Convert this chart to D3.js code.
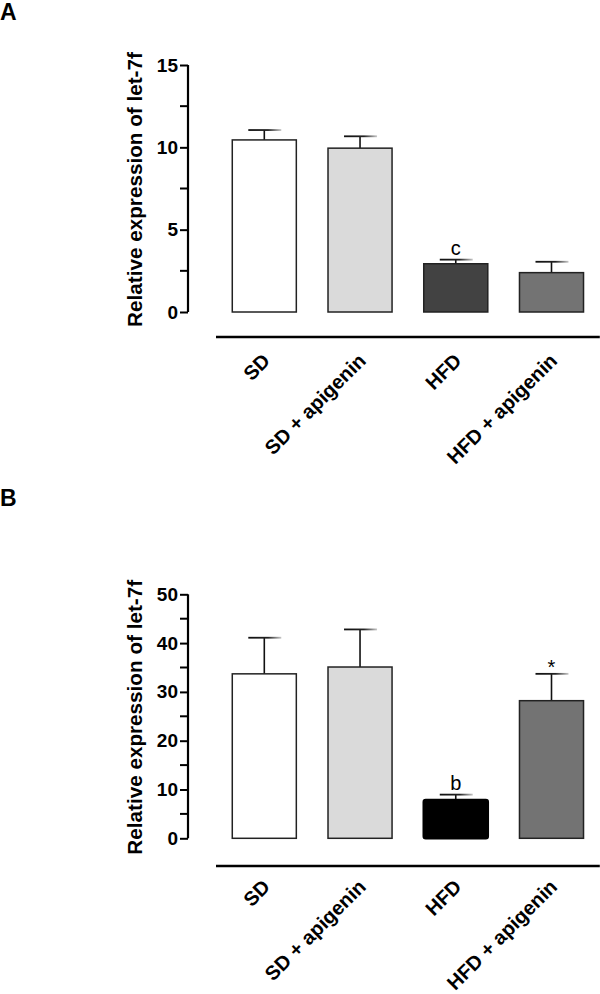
<!DOCTYPE html>
<html>
<head>
<meta charset="utf-8">
<script src="https://cdn.jsdelivr.net/npm/d3@7"></script>
<style>
  html, body { margin: 0; padding: 0; background: #fff; }
  svg { display: block; font-family: "Liberation Sans", Arial, sans-serif; }
</style>
</head>
<body>
<svg id="chart" width="600" height="994"></svg>
<script>
// ---- data ----
const categories = ["SD", "SD + apigenin", "HFD", "HFD + apigenin"];
const meanA = [10.45, 9.95, 2.93, 2.39];
const semA = [0.60, 0.72, 0.25, 0.66];
const annotA = ["", "", "c", ""];
const meanB = [33.7, 35.1, 7.85, 28.2];
const semB = [7.4, 7.7, 1.1, 5.5];
const annotB = ["", "", "b", "*"];
const ticksA = [0, 5, 10, 15];
const minorA = [2.5, 7.5, 12.5];
const ticksB = [0, 10, 20, 30, 40, 50];
const minorB = [5, 15, 25, 35, 45];
const yLabel = "Relative expression of let-7f";
const fillsA = ["#ffffff", "#dadada", "#424242", "#737373"];
const fillsB = ["#ffffff", "#dadada", "#000000", "#737373"];

const svg = d3.select("#chart");

const defs = svg.append("defs");
const grad = defs.append("linearGradient").attr("id", "capgrad")
  .attr("x1", "0%").attr("x2", "100%").attr("y1", "0%").attr("y2", "0%");
grad.append("stop").attr("offset", "0%").attr("stop-color", "#111");
grad.append("stop").attr("offset", "60%").attr("stop-color", "#222");
grad.append("stop").attr("offset", "100%").attr("stop-color", "#c8c8c8");

function panel(opts) {
  const g = svg.append("g");
  const x = d3.scaleBand().domain(categories).range([216, 599.8])
    .paddingInner(0.331).paddingOuter(0.17);
  const y = d3.scaleLinear().domain(opts.domain).range(opts.range);

  // panel letter
  svg.append("text").attr("x", 0).attr("y", opts.letterY)
    .attr("font-size", 23).attr("font-weight", "bold").text(opts.letter);

  // y axis
  const ax = g.append("g").attr("transform", "translate(188,0)")
    .call(d3.axisLeft(y).tickValues(opts.ticks).tickSize(8).tickPadding(2).tickFormat(d3.format("d")));
  ax.select(".domain").attr("stroke", "#000").attr("stroke-width", 2.2)
    .attr("d", `M0,${y(opts.domain[0])}V${y(opts.domain[1])}`);
  ax.selectAll(".tick line").attr("stroke", "#000").attr("stroke-width", 2);
  ax.selectAll(".tick text").attr("font-size", 19).attr("font-weight", "bold")
    .attr("fill", "#000").attr("font-family", "Liberation Sans, Arial, sans-serif");
  ax.append("g").selectAll("line").data(opts.minor).join("line")
    .attr("x1", -8).attr("x2", 0).attr("y1", d => y(d)).attr("y2", d => y(d))
    .attr("stroke", "#000").attr("stroke-width", 2);

  // y label
  const midY = (y(opts.domain[0]) + y(opts.domain[1])) / 2 + 1;
  g.append("text").attr("transform", `translate(142,${midY}) rotate(-90)`)
    .attr("text-anchor", "middle").attr("font-size", 20.7).attr("font-weight", "bold")
    .text(yLabel);

  // bars
  const data = categories.map((c, i) => ({ c, m: opts.mean[i], s: opts.sem[i], a: opts.annot[i], f: opts.fills[i] }));
  const cx = d => x(d.c) + x.bandwidth() / 2;

  // error bars (drawn before bars so the bar covers the lower part)
  g.selectAll(".err").data(data).join("line")
    .attr("x1", cx).attr("x2", cx)
    .attr("y1", d => y(d.m)).attr("y2", d => y(d.m + d.s))
    .attr("stroke", "#111").attr("stroke-width", 1.6);
  g.selectAll(".cap").data(data).join("rect")
    .attr("x", d => cx(d) - 16).attr("width", 33)
    .attr("y", d => y(d.m + d.s) - 0.9).attr("height", 1.8)
    .attr("fill", "url(#capgrad)");

  g.selectAll(".bar").data(data).join("rect")
    .attr("x", d => x(d.c)).attr("width", x.bandwidth())
    .attr("y", d => y(d.m)).attr("height", d => y(0) - y(d.m))
    .attr("fill", d => d.f)
    .attr("stroke", d => d.f === "#000000" ? "#000" : "#222")
    .attr("stroke-width", d => d.f === "#000000" ? 2.5 : 1.5)
    .attr("rx", d => d.f === "#000000" ? 2 : 0);

  // annotations
  g.selectAll(".ann").data(data.filter(d => d.a)).join("text")
    .attr("x", cx).attr("y", d => y(d.m + d.s) - (d.a === "*" ? 0 : 5))
    .attr("text-anchor", "middle").attr("font-size", 20).text(d => d.a);

  // baseline line
  const base = y(0) + opts.baseGap;
  g.append("line").attr("x1", x.range()[0]).attr("x2", x.range()[1])
    .attr("y1", base).attr("y2", base).attr("stroke", "#000").attr("stroke-width", 2.5);

  // category labels
  g.selectAll(".xl").data(data).join("text")
    .attr("transform", d => `translate(${cx(d) + 7},${base + opts.labelGap}) rotate(-45)`)
    .attr("text-anchor", "end").attr("font-size", 20).attr("font-weight", "bold")
    .text(d => d.c);
}

panel({ letter: "A", letterY: 20, domain: [0, 15], range: [312, 65], ticks: ticksA, minor: minorA,
  mean: meanA, sem: semA, annot: annotA, fills: fillsA, baseGap: 25, labelGap: 25 });
panel({ letter: "B", letterY: 506, domain: [0, 50], range: [838.3, 594.3], ticks: ticksB, minor: minorB,
  mean: meanB, sem: semB, annot: annotB, fills: fillsB, baseGap: 27.7, labelGap: 22 });
</script>
</body>
</html>
